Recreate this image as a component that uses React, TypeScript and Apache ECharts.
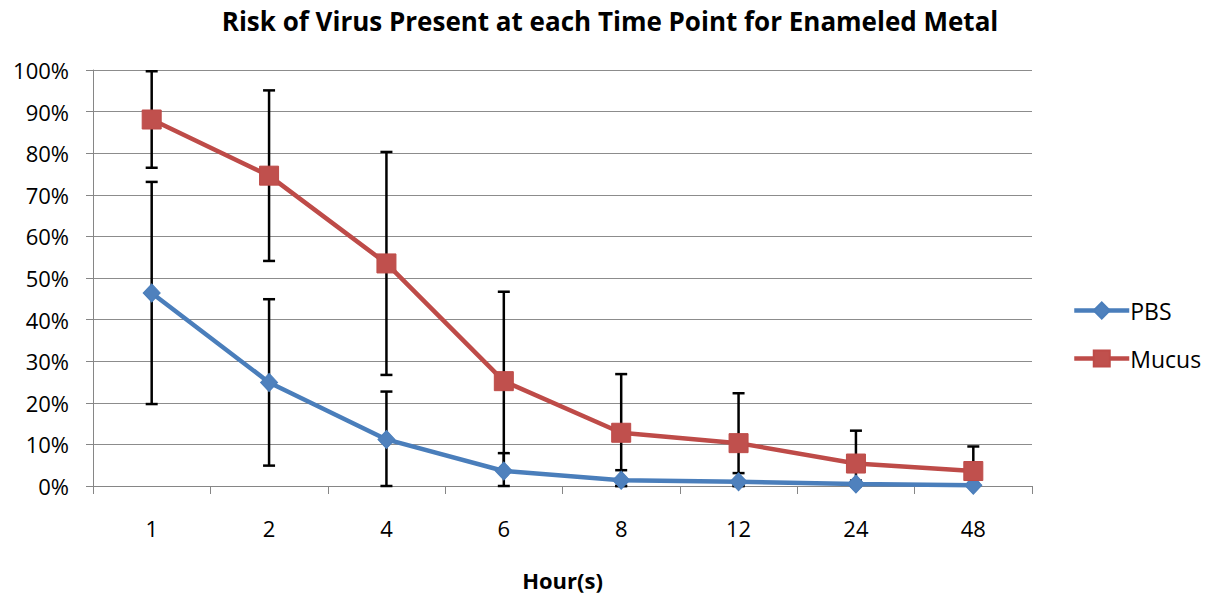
import React, { useEffect, useRef } from "react";
import * as echarts from "echarts";

const categories = ["1", "2", "4", "6", "8", "12", "24", "48"];
const pbsValues = [46.4, 24.9, 11.2, 3.6, 1.4, 1.0, 0.5, 0.2];
const pbsErrors = [26.7, 20.0, 11.5, 4.3, 2.4, 2.1, 0.8, 0.5];
const mucusValues = [88.1, 74.6, 53.5, 25.2, 12.8, 10.3, 5.4, 3.6];
const mucusErrors = [11.6, 20.5, 26.8, 21.5, 14.1, 12.0, 7.9, 5.9];
const yTicks = [0, 10, 20, 30, 40, 50, 60, 70, 80, 90, 100];

const FONT = "'Open Sans', 'Liberation Sans', sans-serif";

function errData(values: number[], errs: number[]) {
  return values.map((v, i) => [i, Math.max(0, v - errs[i]), Math.min(100, v + errs[i])]);
}

function errorSeries(name: string, values: number[], errs: number[]) {
  return {
    type: "custom",
    name: name + " err",
    z: 1,
    silent: true,
    encode: { x: 0, y: [1, 2] },
    data: errData(values, errs),
    renderItem: (params: any, api: any) => {
      const x = api.value(0);
      const lo = api.value(1);
      const hi = api.value(2);
      const top = api.coord([x, hi]);
      const bot = api.coord([x, lo]);
      const hw = 6;
      const style = { stroke: "#000000", lineWidth: 2.5 };
      return {
        type: "group",
        children: [
          { type: "line", shape: { x1: top[0], y1: top[1], x2: bot[0], y2: bot[1] }, style },
          { type: "line", shape: { x1: top[0] - hw, y1: top[1], x2: top[0] + hw, y2: top[1] }, style },
          { type: "line", shape: { x1: bot[0] - hw, y1: bot[1], x2: bot[0] + hw, y2: bot[1] }, style },
        ],
      };
    },
  };
}

export default function App() {
  const ref = useRef<HTMLDivElement>(null);
  useEffect(() => {
    document.body.style.margin = "0";
    const chart = echarts.init(ref.current!, null, { renderer: "svg" });
    chart.setOption({
      animation: false,
      backgroundColor: "#ffffff",
      textStyle: { fontFamily: FONT },
      title: {
        text: "Risk of Virus Present at each Time Point for Enameled Metal",
        left: 605,
        textAlign: "center",
        top: 3,
        textStyle: { fontFamily: FONT, fontSize: 26, fontWeight: "bold", color: "#000000" },
      },
      legend: {
        orient: "vertical",
        left: 1072,
        top: 299,
        padding: 0,
        itemWidth: 55,
        itemHeight: 20,
        itemGap: 25,
        data: ["PBS", "Mucus"],
        lineStyle: { width: 4.5 },
        textStyle: { fontFamily: FONT, fontSize: 23, color: "#000000", lineHeight: 23, padding: [0, 0, 0, -4] },
      },
      grid: { left: 93, right: 179, top: 70, bottom: 110, containLabel: false },
      xAxis: {
        type: "category",
        data: categories,
        boundaryGap: true,
        name: "Hour(s)",
        nameLocation: "middle",
        nameGap: 83,
        nameTextStyle: { fontFamily: FONT, fontSize: 22, fontWeight: "bold", color: "#000000", lineHeight: 22 },
        axisLine: { show: true, lineStyle: { color: "#868686", width: 1 } },
        axisTick: { show: true, length: 8, interval: 0, lineStyle: { color: "#868686" } },
        axisLabel: { fontFamily: FONT, fontSize: 22, color: "#000000", margin: 31, interval: 0 },
      },
      yAxis: {
        type: "value",
        min: 0,
        max: 100,
        interval: 10,
        axisLine: { show: true, lineStyle: { color: "#868686", width: 1 } },
        axisTick: { show: true, length: 7, lineStyle: { color: "#868686" } },
        axisLabel: {
          fontFamily: FONT,
          fontSize: 22,
          color: "#000000",
          margin: 24,
          formatter: (v: number) => (yTicks.includes(v) ? v + "%" : ""),
        },
        splitLine: { show: true, lineStyle: { color: "#8c8c8c", width: 1 } },
      },
      series: [
        errorSeries("PBS", pbsValues, pbsErrors),
        errorSeries("Mucus", mucusValues, mucusErrors),
        {
          type: "line",
          name: "PBS",
          z: 3,
          data: pbsValues,
          symbol: "diamond",
          symbolSize: [17, 18],
          lineStyle: { color: "#4A7EBB", width: 4.5 },
          itemStyle: { color: "#4F81BD", borderColor: "#4A7EBB", borderWidth: 1 },
        },
        {
          type: "line",
          name: "Mucus",
          z: 4,
          data: mucusValues,
          symbol: "rect",
          symbolSize: 19,
          lineStyle: { color: "#BE4B48", width: 4.5 },
          itemStyle: { color: "#C0504D", borderColor: "#BE4B48", borderWidth: 1 },
        },
      ],
    });
    return () => chart.dispose();
  }, []);
  return <div ref={ref} style={{ width: 1211, height: 596 }} />;
}
